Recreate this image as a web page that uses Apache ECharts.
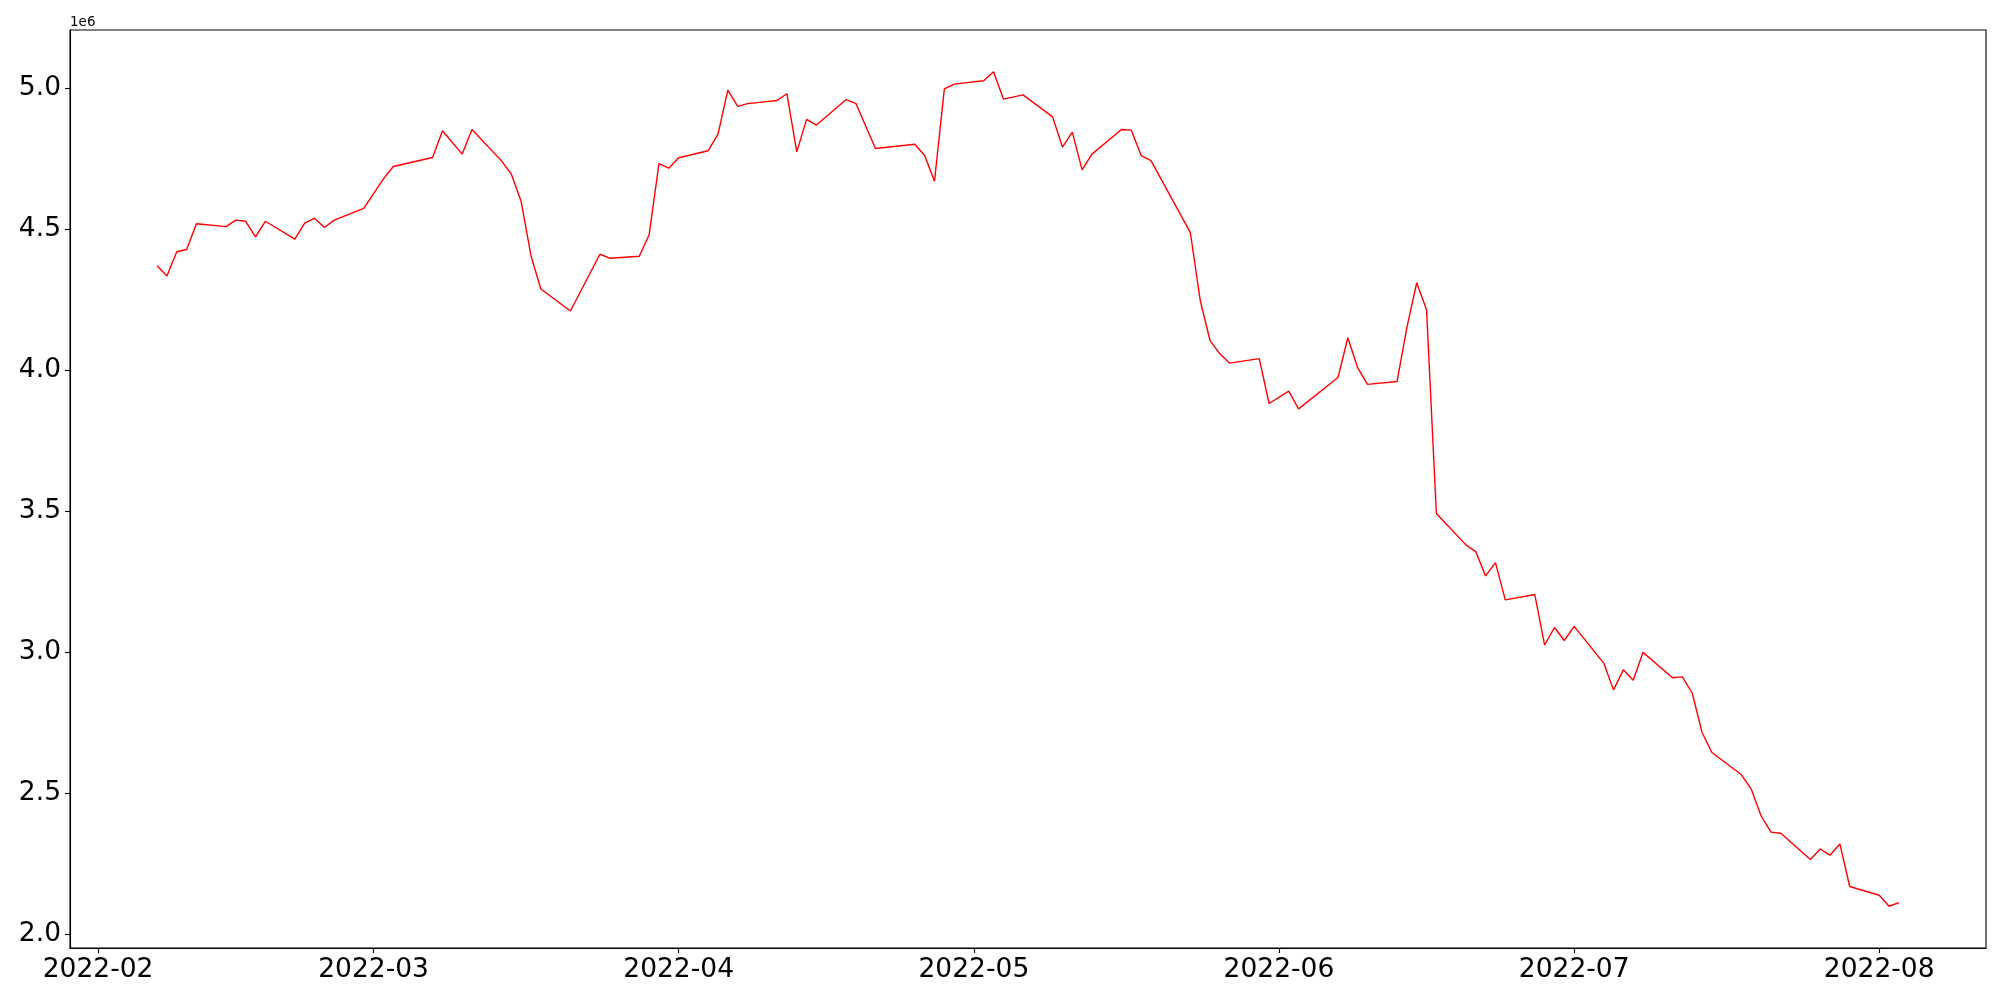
<!DOCTYPE html>
<html>
<head>
<meta charset="utf-8">
<script src="https://cdn.jsdelivr.net/npm/echarts@6/dist/echarts.min.js"></script>
<style>
html,body{margin:0;padding:0;background:#fff;}
#chart{width:2000px;height:1000px;}
</style>
</head>
<body>
<div id="chart"></div>
<script>
// ---- data ----
const dates = [
  '2022-02-07','2022-02-08','2022-02-09','2022-02-10','2022-02-11',
  '2022-02-14','2022-02-15','2022-02-16','2022-02-17','2022-02-18',
  '2022-02-21','2022-02-22','2022-02-23','2022-02-24','2022-02-25',
  '2022-02-28','2022-03-02','2022-03-03','2022-03-07','2022-03-08',
  '2022-03-10','2022-03-11','2022-03-14','2022-03-15','2022-03-16',
  '2022-03-17','2022-03-18','2022-03-21','2022-03-24','2022-03-25',
  '2022-03-28','2022-03-29','2022-03-30','2022-03-31','2022-04-01',
  '2022-04-04','2022-04-05','2022-04-06','2022-04-07','2022-04-08',
  '2022-04-11','2022-04-12','2022-04-13','2022-04-14','2022-04-15',
  '2022-04-18','2022-04-19','2022-04-21','2022-04-25','2022-04-26',
  '2022-04-27','2022-04-28','2022-04-29','2022-05-02','2022-05-03',
  '2022-05-04','2022-05-06','2022-05-09','2022-05-10','2022-05-11',
  '2022-05-12','2022-05-13','2022-05-16','2022-05-17','2022-05-18',
  '2022-05-19','2022-05-23','2022-05-24','2022-05-25','2022-05-26',
  '2022-05-27','2022-05-30','2022-05-31','2022-06-02','2022-06-03',
  '2022-06-07','2022-06-08','2022-06-09','2022-06-10','2022-06-13',
  '2022-06-14','2022-06-15','2022-06-16','2022-06-17','2022-06-20',
  '2022-06-21','2022-06-22','2022-06-23','2022-06-24','2022-06-27',
  '2022-06-28','2022-06-29','2022-06-30','2022-07-01','2022-07-04',
  '2022-07-05','2022-07-06','2022-07-07','2022-07-08','2022-07-11',
  '2022-07-12','2022-07-13','2022-07-14','2022-07-15','2022-07-18',
  '2022-07-19','2022-07-20','2022-07-21','2022-07-22','2022-07-25',
  '2022-07-26','2022-07-27','2022-07-28','2022-07-29','2022-08-01',
  '2022-08-02','2022-08-03'
];
const values = [
  4370000,4334000,4420000,4428000,4519000,
  4509000,4532000,4528000,4473000,4528000,
  4465000,4521000,4539000,4506000,4532000,
  4574000,4678000,4722000,4754000,4849000,
  4766000,4853000,4742000,4695000,4598000,
  4405000,4288000,4210000,4411000,4397000,
  4404000,4480000,4732000,4716000,4753000,
  4778000,4837000,4993000,4935000,4945000,
  4956000,4980000,4774000,4889000,4869000,
  4959000,4946000,4786000,4801000,4761000,
  4670000,4997000,5014000,5026000,5058000,
  4961000,4976000,4898000,4791000,4844000,
  4710000,4766000,4853000,4851000,4761000,
  4743000,4488000,4248000,4105000,4058000,
  4025000,4041000,3882000,3926000,3863000,
  3974000,4115000,4009000,3950000,3960000,
  4151000,4310000,4214000,3492000,3381000,
  3357000,3271000,3318000,3186000,3205000,
  3026000,3088000,3042000,3092000,2962000,
  2867000,2938000,2901000,3000000,2910000,
  2913000,2855000,2716000,2645000,2566000,
  2515000,2420000,2363000,2359000,2266000,
  2303000,2281000,2321000,2170000,2139000,
  2100000,2113000
];
const yTicks = [2000000,2500000,3000000,3500000,4000000,4500000,5000000];
const xTickMonths = ['2022-02','2022-03','2022-04','2022-05','2022-06','2022-07','2022-08'];

// ---- build ----
function toTs(s){ const p=s.split('-').map(Number); return new Date(p[0],p[1]-1,p[2]||1).getTime(); }
const seriesData = dates.map((d,i)=>[toTs(d), values[i]]);
const xs = seriesData.map(p=>p[0]);
const xMin0 = Math.min(...xs), xMax0 = Math.max(...xs);
const xPad = (xMax0-xMin0)*0.05;
const yMin0 = Math.min(...values), yMax0 = Math.max(...values);
const yPad = (yMax0-yMin0)*0.05;
const xTickVals = xTickMonths.map(toTs);

const FONT = 'DejaVu Sans';
const chart = echarts.init(document.getElementById('chart'), null, {renderer:'canvas'});
chart.setOption({
  backgroundColor:'#ffffff',
  animation:false,
  grid:{left:70,right:14,top:30,bottom:52,show:true,borderColor:'#000',borderWidth:1.1,backgroundColor:'transparent'},
  xAxis:{
    type:'value',
    scale:true,
    min:xMin0-xPad, max:xMax0+xPad,
    splitLine:{show:false},
    axisLine:{show:true,lineStyle:{color:'#000',width:1.1}},
    axisTick:{show:true,inside:false,length:5,lineStyle:{color:'#000',width:1.1},customValues:xTickVals},
    axisLabel:{show:true,color:'#000',fontFamily:FONT,fontSize:26.5,margin:9,customValues:xTickVals,
      formatter:function(v){const d=new Date(v);return d.getFullYear()+'-'+String(d.getMonth()+1).padStart(2,'0');}},
    minorTick:{show:false}
  },
  yAxis:{
    type:'value',
    scale:true,
    min:yMin0-yPad, max:yMax0+yPad,
    splitLine:{show:false},
    axisLine:{show:true,lineStyle:{color:'#000',width:1.1}},
    axisTick:{show:true,inside:false,length:5,lineStyle:{color:'#000',width:1.1},customValues:yTicks},
    axisLabel:{show:true,color:'#000',fontFamily:FONT,fontSize:26.5,margin:9,customValues:yTicks,
      formatter:function(v){return (v/1e6).toFixed(1);}}
  },
  graphic:[{
    type:'text', left:70, top:15,
    style:{text:'1e6', fontFamily:FONT, fontSize:13.5, fill:'#000'}
  }],
  series:[{
    type:'line',
    data:seriesData,
    showSymbol:false,
    symbol:'none',
    lineStyle:{color:'#ff0000',width:1.4},
    itemStyle:{color:'#ff0000'},
    emphasis:{disabled:true}
  }]
});
</script>
</body>
</html>
